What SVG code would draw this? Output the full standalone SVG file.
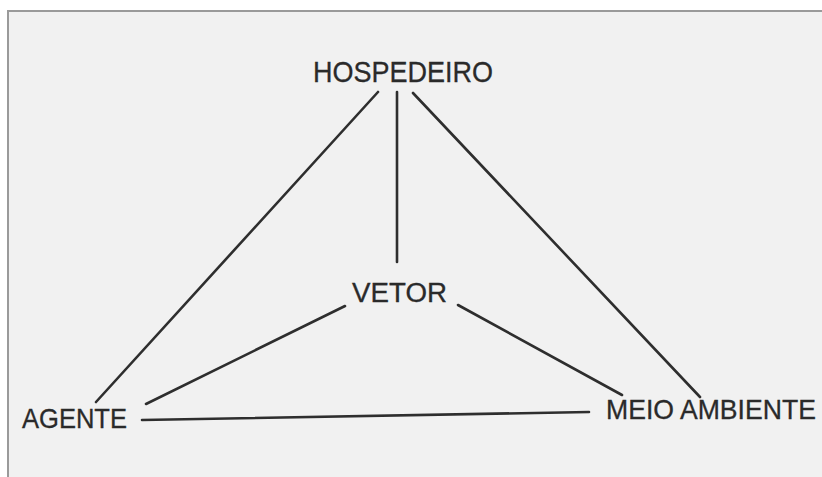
<svg xmlns="http://www.w3.org/2000/svg" width="822" height="477" viewBox="0 0 822 477">
<style>
.lbl{font-family:"Liberation Sans",Arial,sans-serif;fill:#2a2a2a;stroke:#2a2a2a;stroke-width:0.3;}
.c{stroke:#2e2e2e;stroke-width:2.6;stroke-linecap:round;fill:none;}
</style>
<rect x="0" y="0" width="822" height="477" fill="#ffffff"/>
<rect id="frame" x="8" y="11" width="830" height="480" fill="#f1f1f1" stroke="#9a9a9a" stroke-width="2"/>
<g id="connectors">
<line class="c" x1="378" y1="92" x2="96" y2="402"/>
<line class="c" x1="397" y1="92" x2="397" y2="262"/>
<line class="c" x1="413" y1="93" x2="700" y2="397"/>
<line class="c" x1="345" y1="306" x2="146" y2="404"/>
<line class="c" x1="458" y1="305" x2="622" y2="395"/>
<line class="c" x1="142" y1="420" x2="589" y2="412"/>
</g>
<g id="hospedeiro"><text class="lbl" x="313" y="82" font-size="29" textLength="180" lengthAdjust="spacingAndGlyphs">HOSPEDEIRO</text></g>
<g id="vetor"><text class="lbl" x="352" y="302" font-size="27" textLength="95" lengthAdjust="spacingAndGlyphs">VETOR</text></g>
<g id="agente"><text class="lbl" x="22" y="428" font-size="27.5" textLength="105" lengthAdjust="spacingAndGlyphs">AGENTE</text></g>
<g id="meio-ambiente"><text class="lbl" x="606" y="419" font-size="27.5" textLength="210" lengthAdjust="spacingAndGlyphs">MEIO AMBIENTE</text></g>
</svg>
